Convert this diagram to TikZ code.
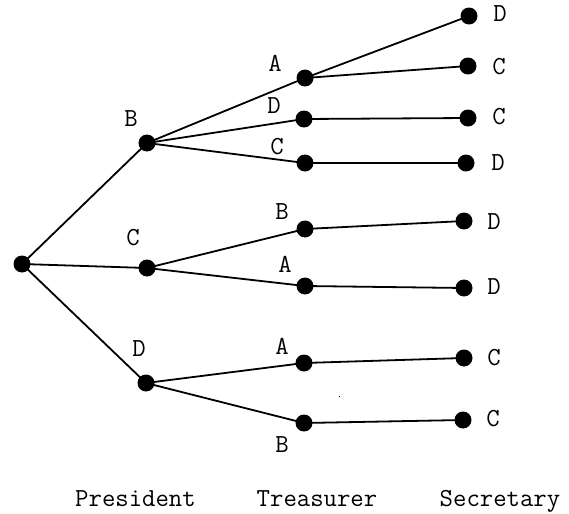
\documentclass[tikz,border=0pt]{standalone}
\begin{document}
\begin{tikzpicture}[x=0.5pt,y=-0.5pt,
  dot/.style={circle,fill=black,inner sep=0pt,minimum size=8.5pt},
  lbl/.style={font=\ttfamily\fontsize{13}{15}\selectfont,inner sep=0pt},
  branch/.style={line width=0.9pt}]
\useasboundingbox (0,0) rectangle (569,514);
% root and president
\node[dot] (r) at (22,264) {};
\node[dot] (pB) at (147,143) {};
\node[dot] (pC) at (147,268) {};
\node[dot] (pD) at (146,383) {};
% treasurer
\node[dot] (tBA) at (305,78) {};
\node[dot] (tBD) at (304,119) {};
\node[dot] (tBC) at (305,163) {};
\node[dot] (tCB) at (305,229) {};
\node[dot] (tCA) at (305,286) {};
\node[dot] (tDA) at (304,363) {};
\node[dot] (tDB) at (304,423) {};
% secretary
\node[dot] (sBAD) at (469,16) {};
\node[dot] (sBAC) at (468,66) {};
\node[dot] (sBDC) at (468,118) {};
\node[dot] (sBCD) at (466,163) {};
\node[dot] (sCBD) at (464,221) {};
\node[dot] (sCAD) at (464,288) {};
\node[dot] (sDAC) at (464,358) {};
\node[dot] (sDBC) at (463,420) {};
% branches
\foreach \a/\b in {r/pB,r/pC,r/pD,pB/tBA,pB/tBD,pB/tBC,pC/tCB,pC/tCA,pD/tDA,pD/tDB,
  tBA/sBAD,tBA/sBAC,tBD/sBDC,tBC/sBCD,tCB/sCBD,tCA/sCAD,tDA/sDAC,tDB/sDBC}
  \draw[branch] (\a.center) -- (\b.center);
% labels
\node[lbl] (lpB) at (131,119) {B};
\node[lbl] (lpC) at (133,238) {C};
\node[lbl] (lpD) at (139,349) {D};
\node[lbl] (ltBA) at (275,63) {A};
\node[lbl] (ltBD) at (274,106) {D};
\node[lbl] (ltBC) at (277,147) {C};
\node[lbl] (ltCB) at (282,212) {B};
\node[lbl] (ltCA) at (285,264) {A};
\node[lbl] (ltDA) at (282,346) {A};
\node[lbl] (ltDB) at (282,445) {B};
\node[lbl] (lsBAD) at (500,14) {D};
\node[lbl] (lsBAC) at (499,67) {C};
\node[lbl] (lsBDC) at (499,117) {C};
\node[lbl] (lsBCD) at (498,163) {D};
\node[lbl] (lsCBD) at (494,222) {D};
\node[lbl] (lsCAD) at (494,287) {D};
\node[lbl] (lsDAC) at (494,358) {C};
\node[lbl] (lsDBC) at (493,419) {C};
\fill (339.5,396.5) circle (0.6);
% columns
\node[lbl,anchor=base] (colP) at (135.5,506.5) {President};
\node[lbl,anchor=base] (colT) at (317,506.5) {Treasurer};
\node[lbl,anchor=base] (colS) at (500,506.5) {Secretary};
\end{tikzpicture}
\end{document}
